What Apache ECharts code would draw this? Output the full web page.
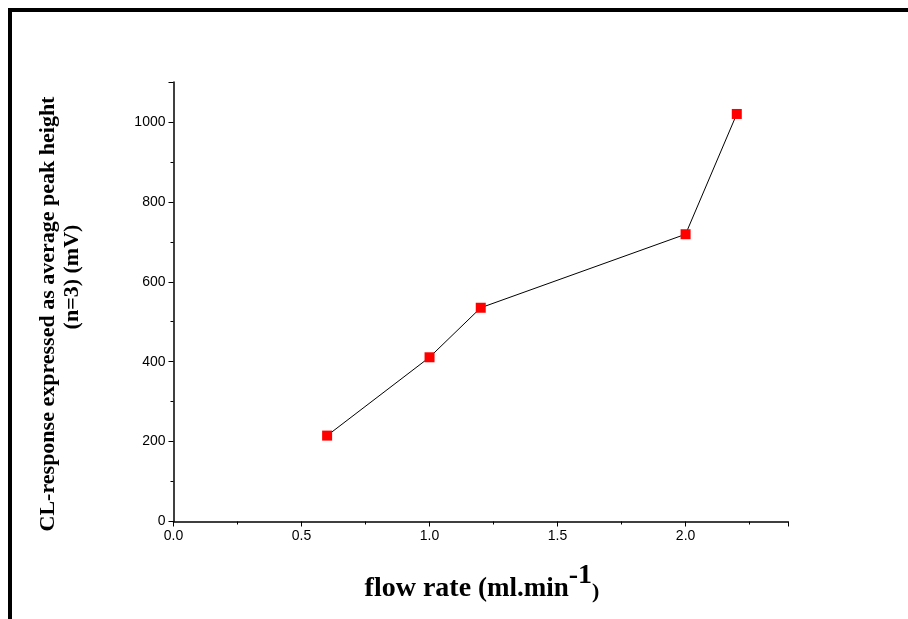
<!DOCTYPE html>
<html>
<head>
<meta charset="utf-8">
<script src="https://cdn.jsdelivr.net/npm/echarts@6/dist/echarts.min.js"></script>
<style>
  html, body { margin: 0; padding: 0; background: #fff; }
  #chart { width: 908px; height: 619px; }
</style>
</head>
<body>
<div id="chart"></div>
<script>
// Flow rate (ml/min) vs CL response (mV)
const flowRates = [0.6, 1.0, 1.2, 2.0, 2.2];
const responses = [215, 411, 535, 719, 1020];
const xTickLabels = ['0.0', '0.5', '1.0', '1.5', '2.0'];
const yTickLabels = ['0', '200', '400', '600', '800', '1000'];

const seriesData = flowRates.map((x, i) => [x, responses[i]]);

const chart = echarts.init(document.getElementById('chart'), null, { renderer: 'canvas' });

const serif = '"Liberation Serif", "Times New Roman", serif';
const sans = '"Liberation Sans", Arial, sans-serif';

chart.setOption({
  backgroundColor: '#ffffff',
  animation: false,
  grid: { left: 173.5, right: 120, top: 82, bottom: 97.5 },
  xAxis: {
    type: 'value',
    min: 0, max: 2.4, interval: 0.5,
    axisLine: { show: true, onZero: false, lineStyle: { color: '#000', width: 1.5 } },
    axisTick: { show: true, inside: false, length: 5, lineStyle: { color: '#000', width: 1 } },
    minorTick: { show: true, splitNumber: 2, length: 3, lineStyle: { color: '#000', width: 1 } },
    splitLine: { show: false },
    axisLabel: {
      color: '#000', fontFamily: sans, fontSize: 14, margin: 8,
      formatter: v => {
        const idx = Math.round(v / 0.5);
        return Math.abs(v - idx * 0.5) < 1e-9 && idx < xTickLabels.length ? xTickLabels[idx] : '';
      }
    }
  },
  yAxis: {
    type: 'value',
    min: 0, max: 1100, interval: 200,
    axisLine: { show: true, lineStyle: { color: '#000', width: 1.5 } },
    axisTick: { show: true, inside: false, length: 5, lineStyle: { color: '#000', width: 1 } },
    minorTick: { show: true, splitNumber: 2, length: 3, lineStyle: { color: '#000', width: 1 } },
    splitLine: { show: false },
    axisLabel: {
      color: '#000', fontFamily: sans, fontSize: 14, margin: 8,
      formatter: v => {
        const idx = Math.round(v / 200);
        return idx < yTickLabels.length ? yTickLabels[idx] : '';
      }
    }
  },
  series: [{
    type: 'line',
    data: seriesData,
    symbol: 'rect',
    symbolSize: 10,
    itemStyle: { color: '#ff0000' },
    lineStyle: { color: '#000', width: 1 },
    z: 3
  }],
  graphic: [
    // frame edges
    { type: 'rect', shape: { x: 8, y: 8, width: 900, height: 4 }, style: { fill: '#000' } },
    { type: 'rect', shape: { x: 8, y: 8, width: 4, height: 611 }, style: { fill: '#000' } },
    // x-axis title
    {
      type: 'text', x: 482, y: 603,
      style: {
        text: '{a|flow rate }{b|(ml.min}{c|-1}{d|)}',
        align: 'center', verticalAlign: 'bottom',
        rich: {
          a: { fontFamily: serif, fontWeight: 'bold', fontSize: 28, fill: '#000', verticalAlign: 'bottom' },
          b: { fontFamily: serif, fontWeight: 'bold', fontSize: 27, fill: '#000', verticalAlign: 'bottom' },
          c: { fontFamily: serif, fontWeight: 'bold', fontSize: 28, fill: '#000', padding: [0, 0, 13, 0], verticalAlign: 'bottom' },
          d: { fontFamily: serif, fontWeight: 'bold', fontSize: 22, fill: '#000', verticalAlign: 'bottom' }
        }
      }
    },
    // y-axis title, two lines
    {
      type: 'text', x: 48, y: 314, rotation: Math.PI / 2,
      style: {
        text: 'CL-response expressed as average peak height',
        fontFamily: serif, fontWeight: 'bold', fontSize: 22, fill: '#000',
        align: 'center', verticalAlign: 'middle'
      }
    },
    {
      type: 'text', x: 72, y: 277, rotation: Math.PI / 2,
      style: {
        text: '(n=3) (mV)',
        fontFamily: serif, fontWeight: 'bold', fontSize: 22, fill: '#000',
        align: 'center', verticalAlign: 'middle'
      }
    }
  ]
});
</script>
</body>
</html>
